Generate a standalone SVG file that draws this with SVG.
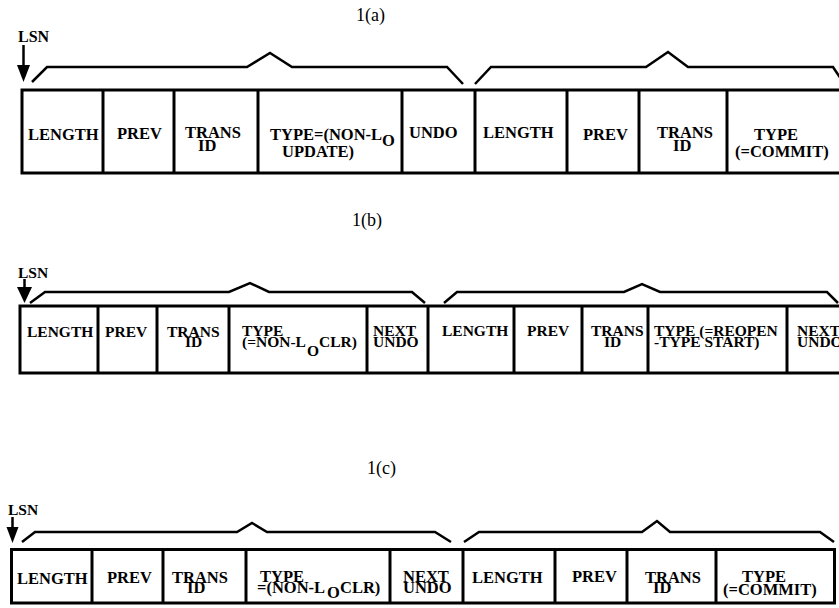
<svg xmlns="http://www.w3.org/2000/svg" width="839" height="608" viewBox="0 0 839 608">
<style>
  .bg { fill: #ffffff; }
  .box { fill: none; stroke: #000; stroke-width: 3; }
  .div { stroke: #000; stroke-width: 3; }
  .brace { fill: none; stroke: #000; stroke-width: 2.5; stroke-linejoin: miter; }
  .shaft { stroke: #000; stroke-width: 2.5; }
  .head { fill: #000; }
  .title { font-family: "Liberation Serif", "Times New Roman", serif; font-size: 18px; fill: #000; }
  .lsn { font-family: "Liberation Serif", "Times New Roman", serif; font-weight: bold; font-size: 16px; fill: #000; }
  .t { font-family: "Liberation Serif", "Times New Roman", serif; font-weight: bold; font-size: 16.5px; fill: #000; }
  .tb { font-family: "Liberation Serif", "Times New Roman", serif; font-weight: bold; font-size: 15.5px; fill: #000; }
</style>
<rect class="bg" x="0" y="0" width="839" height="608"/>

<!-- Row 1(a) -->
<g id="row-a">
  <text class="title" x="356" y="21">1(a)</text>
  <text class="lsn" x="18" y="42">LSN</text>
  <path class="box" d="M842,90 H22 V173 H842"/>
  <g id="a-cells">
    <line class="div" x1="103" y1="90" x2="103" y2="173"/>
    <line class="div" x1="174" y1="90" x2="174" y2="173"/>
    <line class="div" x1="258" y1="90" x2="258" y2="173"/>
    <line class="div" x1="402" y1="90" x2="402" y2="173"/>
    <line class="div" x1="475" y1="90" x2="475" y2="173"/>
    <line class="div" x1="567" y1="90" x2="567" y2="173"/>
    <line class="div" x1="639" y1="90" x2="639" y2="173"/>
    <line class="div" x1="727" y1="90" x2="727" y2="173"/>
  </g>
  <g id="a-length1"><text class="t" x="28" y="140">LENGTH</text></g>
  <g id="a-prev1"><text class="t" x="117" y="139">PREV</text></g>
  <g id="a-trans1"><text class="t" x="185" y="138">TRANS</text><text class="t" x="198" y="151">ID</text></g>
  <g id="a-type1"><text class="t" x="270" y="140">TYPE=(NON-L</text><text class="t" x="382" y="146">O</text><text class="t" x="282" y="157">UPDATE)</text></g>
  <g id="a-undo"><text class="t" x="409" y="138">UNDO</text></g>
  <g id="a-length2"><text class="t" x="483" y="138">LENGTH</text></g>
  <g id="a-prev2"><text class="t" x="583" y="140">PREV</text></g>
  <g id="a-trans2"><text class="t" x="657" y="138">TRANS</text><text class="t" x="673" y="151">ID</text></g>
  <g id="a-type2"><text class="t" x="754" y="140">TYPE</text><text class="t" x="735" y="157">(=COMMIT)</text></g>
</g>

<!-- Row 1(b) -->
<g id="row-b">
  <text class="title" x="352" y="226">1(b)</text>
  <text class="lsn" x="18" y="278" style="font-size:15.5px">LSN</text>
  <path class="box" d="M842,306 H20 V373 H842"/>
  <g id="b-cells">
    <line class="div" x1="98" y1="306" x2="98" y2="373"/>
    <line class="div" x1="157" y1="306" x2="157" y2="373"/>
    <line class="div" x1="229" y1="306" x2="229" y2="373"/>
    <line class="div" x1="367" y1="306" x2="367" y2="373"/>
    <line class="div" x1="428" y1="306" x2="428" y2="373"/>
    <line class="div" x1="514" y1="306" x2="514" y2="373"/>
    <line class="div" x1="582" y1="306" x2="582" y2="373"/>
    <line class="div" x1="648" y1="306" x2="648" y2="373"/>
    <line class="div" x1="787" y1="306" x2="787" y2="373"/>
  </g>
  <g id="b-length1"><text class="tb" x="27" y="337">LENGTH</text></g>
  <g id="b-prev1"><text class="tb" x="105" y="337">PREV</text></g>
  <g id="b-trans1"><text class="tb" x="167" y="337">TRANS</text><text class="tb" x="185" y="347">ID</text></g>
  <g id="b-type1"><text class="tb" x="242" y="336">TYPE</text><text class="tb" x="242" y="347">(=NON-L</text><text class="tb" x="307" y="356">O</text><text class="tb" x="319" y="347">CLR)</text></g>
  <g id="b-next1"><text class="tb" x="373" y="336">NEXT</text><text class="tb" x="373" y="347">UNDO</text></g>
  <g id="b-length2"><text class="tb" x="442" y="336">LENGTH</text></g>
  <g id="b-prev2"><text class="tb" x="527" y="336">PREV</text></g>
  <g id="b-trans2"><text class="tb" x="591" y="336">TRANS</text><text class="tb" x="604" y="347">ID</text></g>
  <g id="b-type2"><text class="tb" x="654" y="336">TYPE (=REOPEN</text><text class="tb" x="654" y="347">-TYPE START)</text></g>
  <g id="b-next2"><text class="tb" x="797" y="336">NEXT</text><text class="tb" x="797" y="347">UNDO</text></g>
</g>

<!-- Row 1(c) -->
<g id="row-c">
  <text class="title" x="367" y="474">1(c)</text>
  <text class="lsn" x="8" y="515" style="font-size:15.5px">LSN</text>
  <rect class="box" x="11.5" y="549.5" width="823" height="53.5"/>
  <g id="c-cells">
    <line class="div" x1="92" y1="549" x2="92" y2="603"/>
    <line class="div" x1="163" y1="549" x2="163" y2="603"/>
    <line class="div" x1="246" y1="549" x2="246" y2="603"/>
    <line class="div" x1="390" y1="549" x2="390" y2="603"/>
    <line class="div" x1="463" y1="549" x2="463" y2="603"/>
    <line class="div" x1="555" y1="549" x2="555" y2="603"/>
    <line class="div" x1="627" y1="549" x2="627" y2="603"/>
    <line class="div" x1="716" y1="549" x2="716" y2="603"/>
  </g>
  <g id="c-length1"><text class="t" x="17" y="584">LENGTH</text></g>
  <g id="c-prev1"><text class="t" x="107" y="583">PREV</text></g>
  <g id="c-trans1"><text class="t" x="172" y="583">TRANS</text><text class="t" x="187" y="593">ID</text></g>
  <g id="c-type1"><text class="t" x="260" y="582">TYPE</text><text class="t" x="257" y="593">=(NON-L</text><text class="t" x="327" y="598">O</text><text class="t" x="340" y="593">CLR)</text></g>
  <g id="c-next1"><text class="t" x="403" y="582">NEXT</text><text class="t" x="403" y="593">UNDO</text></g>
  <g id="c-length2"><text class="t" x="472" y="583">LENGTH</text></g>
  <g id="c-prev2"><text class="t" x="572" y="582">PREV</text></g>
  <g id="c-trans2"><text class="t" x="645" y="583">TRANS</text><text class="t" x="653" y="593">ID</text></g>
  <g id="c-type2"><text class="t" x="742" y="582">TYPE</text><text class="t" x="723" y="595">(=COMMIT)</text></g>
</g>

<!-- Connectors: LSN arrows and braces -->
<g id="connectors">
  <line class="shaft" x1="23.5" y1="45" x2="23.5" y2="66"/>
  <polygon class="head" points="17,65 30,65 23.5,82"/>
  <polyline class="brace" points="32,82 47,67 247,67 270,53 292,67 447,67 463,84"/>
  <polyline class="brace" points="475,84 491,67 646,67 668,52 688,67 833,67 843,82"/>

  <line class="shaft" x1="24.5" y1="279" x2="24.5" y2="288"/>
  <polygon class="head" points="17,287 32,287 24.5,303"/>
  <polyline class="brace" points="30,303 45,292 229,292 250,283 269,292 412,292 425,303"/>
  <polyline class="brace" points="444,303 457,292 624,292 642,284 660,292 827,292 838,303"/>

  <line class="shaft" x1="12.5" y1="517" x2="12.5" y2="528"/>
  <polygon class="head" points="6.5,527 18.5,527 12.5,543"/>
  <polyline class="brace" points="22,542 35,532 237,532 252,523 267,532 435,532 451,542"/>
  <polyline class="brace" points="464,542 479,532 642,532 657,521 670,532 820,532 834,542"/>
</g>
</svg>
